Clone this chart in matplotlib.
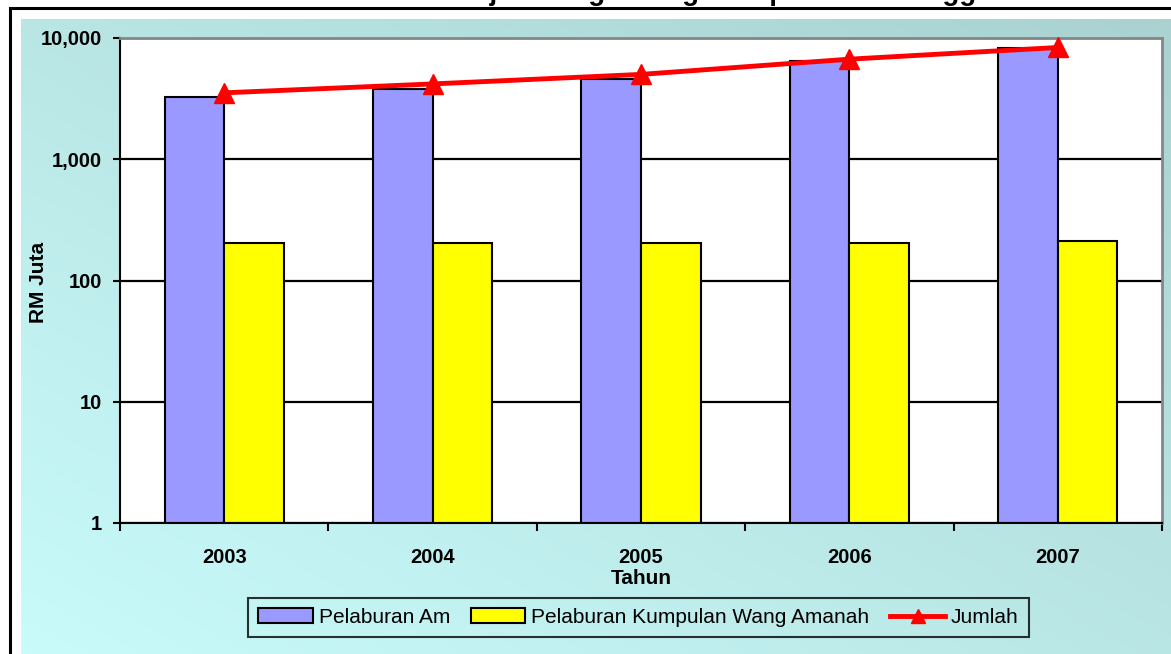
import numpy as np
import matplotlib
matplotlib.use("Agg")
import matplotlib.pyplot as plt
from matplotlib.colors import LinearSegmentedColormap
from matplotlib.lines import Line2D
from matplotlib.patches import Patch, Rectangle
from matplotlib.ticker import NullLocator

plt.rcParams['font.family'] = ['Liberation Sans', 'DejaVu Sans']

# RM Juta, 2003 - 2007
years = ['2003', '2004', '2005', '2006', '2007']
pelaburan_am = [3290, 3790, 4570, 6500, 8240]
pelaburan_kwa = [203, 204, 205, 203, 213]
jumlah = [3530, 4180, 5010, 6690, 8350]

series_names = ['Pelaburan Am', 'Pelaburan Kumpulan Wang Amanah', 'Jumlah']
yticks = [1, 10, 100, 1000, 10000]
title = 'Kedudukan Pelaburan Kerajaan Negeri Bagi Tempoh 2003 Hingga 2007'

W, H = 1171, 654
fig = plt.figure(figsize=(W / 100, H / 100), dpi=100)


def fx(px):
    return px / W


def fy(py):
    return 1 - py / H


# title sits just above the sheet, most of it falls off the top
fig.text(fx(594), 1 + 0.5 / H, title, ha='center', va='baseline',
         fontsize=20, fontweight='bold')

# black frame around the chart object
fig.patches.append(Rectangle((fx(10), -0.1), 1.2, fy(8) + 0.1,
                             transform=fig.transFigure, fill=False,
                             edgecolor='black', lw=2.2))

# chart area with a diagonal cyan gradient
bg = fig.add_axes([fx(21), 0, 1 - fx(21), fy(19)])
bg.axis('off')
gx, gy = np.meshgrid(np.linspace(0, 1, 300), np.linspace(0, 1, 300))
grad = (gx + gy) / 2
cmap = LinearSegmentedColormap.from_list('chart_bg', ['#c9fbfb', '#a9d2d0'])
bg.imshow(grad, cmap=cmap, origin='lower', aspect='auto', extent=[0, 1, 0, 1])

ax = fig.add_axes([fx(120), fy(523), fx(1162) - fx(120), fy(38) - fy(523)])
ax.set_facecolor('white')
ax.set_yscale('log')
ax.set_ylim(1, 10000)
ax.set_xlim(-0.5, 4.5)

x = np.arange(len(years))
w = 1 / 3.5  # gap width 150%
ax.bar(x - w / 2, np.array(pelaburan_am) - 1, width=w, bottom=1,
       color='#9999ff', edgecolor='black', lw=1.5, zorder=2)
ax.bar(x + w / 2, np.array(pelaburan_kwa) - 1, width=w, bottom=1,
       color='#ffff00', edgecolor='black', lw=1.5, zorder=2)
ax.plot(x, jumlah, color='red', lw=3.5, marker='^', ms=14,
        zorder=4, clip_on=False)

ax.set_axisbelow(True)
ax.yaxis.grid(True, color='black', lw=1.6)
ax.set_yticks(yticks, labels=[f'{v:,}' for v in yticks],
              fontweight='bold', fontsize=14.5)
ax.yaxis.set_minor_locator(NullLocator())
ax.tick_params(axis='y', length=5, width=1.5, pad=8)

ax.set_xticks(np.arange(-0.5, len(years), 1))
ax.set_xticklabels([])
ax.set_xticks(x, minor=True)
ax.set_xticklabels(years, minor=True, fontweight='bold', fontsize=14.5)
ax.tick_params(axis='x', which='major', length=6, width=1.5)
ax.tick_params(axis='x', which='minor', length=0, pad=18)

for side in ('left', 'bottom'):
    ax.spines[side].set_color('black')
    ax.spines[side].set_linewidth(1.5)
for side in ('top', 'right'):
    ax.spines[side].set_color('#868686')
    ax.spines[side].set_linewidth(2)

fig.text(fx(641), fy(578), 'Tahun', ha='center', va='center',
         fontsize=15, fontweight='bold')
fig.text(fx(38), fy(282), 'RM Juta', rotation=90, ha='center', va='center',
         fontsize=15, fontweight='bold')

handles = [
    Patch(facecolor='#9999ff', edgecolor='black', lw=1.5),
    Patch(facecolor='#ffff00', edgecolor='black', lw=1.5),
    Line2D([], [], color='red', lw=3.5, marker='^', ms=10),
]
leg = fig.legend(handles, series_names, loc='center',
                 bbox_to_anchor=(fx(638.5), fy(617.5)), ncol=3,
                 frameon=True, fancybox=False, fontsize=15,
                 handlelength=2.6, handletextpad=0.3, columnspacing=1.0,
                 borderpad=0.5, borderaxespad=0)
leg.get_frame().set_edgecolor('black')
leg.get_frame().set_linewidth(1.5)
leg.get_frame().set_facecolor('none')

fig.savefig('out.png', dpi=100)
